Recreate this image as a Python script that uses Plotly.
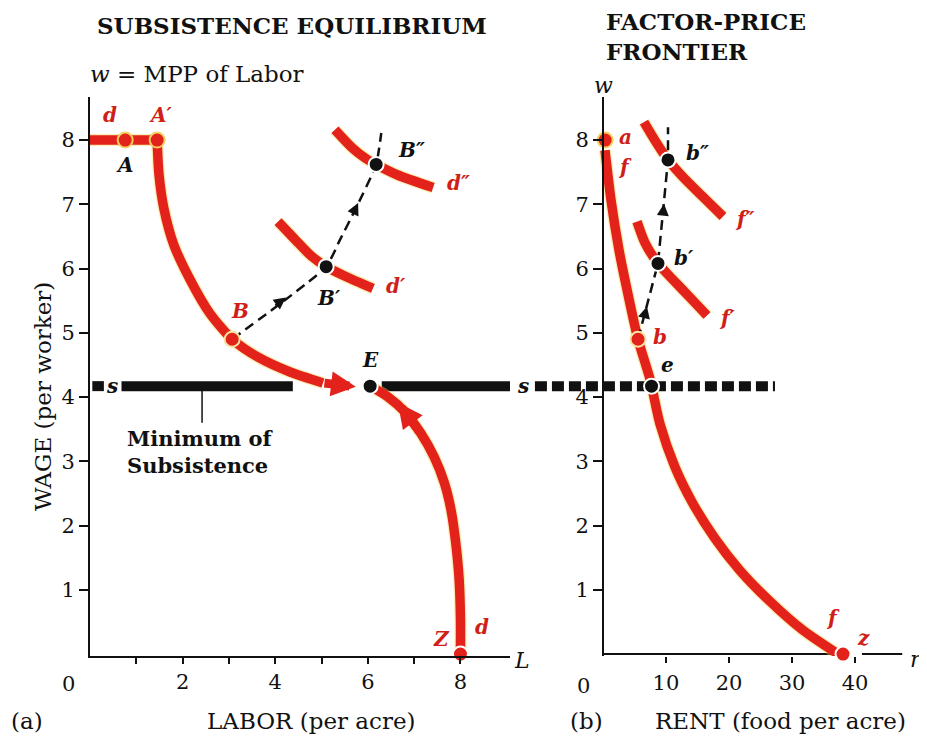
import plotly.graph_objects as go

# page has an 8px body margin: the figure is sized/positioned so that
# pixel coordinates below refer to the 927x745 window
OFF = 8
W, H = 927 - OFF, 745 - OFF
SERIF = "DejaVu Serif"
RED = "#e3221b"
LRED = "#d01e18"
BLK = "#111111"
GLOW = "rgba(245,210,80,0.45)"

# ---------------- data ----------------
s_level = 4.17

# Panel (a): LABOR (per acre) vs WAGE
d_top_L = [0.0, 1.45]
d_top_w = [8.0, 8.0]
d_L = [1.45, 1.49, 1.60, 1.81, 2.16, 2.59, 3.07, 3.63, 4.32, 5.03]
d_w = [8.0, 7.46, 6.92, 6.37, 5.83, 5.30, 4.90, 4.62, 4.39, 4.22]
z_L = [8.0, 8.0, 7.97, 7.90, 7.80, 7.65, 7.43, 7.15, 6.80, 6.44, 6.05]
z_w = [0.0, 0.56, 1.18, 1.72, 2.23, 2.67, 3.07, 3.43, 3.77, 4.00, 4.17]
d1_L = [4.06, 4.43, 4.77, 5.10, 5.51, 6.11]
d1_w = [6.73, 6.45, 6.20, 6.03, 5.88, 5.69]
d2_L = [5.29, 5.66, 5.96, 6.18, 6.63, 7.41]
d2_w = [8.16, 7.88, 7.71, 7.62, 7.46, 7.26]
path_a_L = [3.07, 5.10, 5.40, 5.75, 6.18, 6.29]
path_a_w = [4.90, 6.03, 6.45, 6.95, 7.62, 8.11]
s_a_L = [[0.05, 0.30], [0.68, 4.38], [6.30, 9.07]]
pts_a = {"A": (0.76, 8.0), "A2": (1.45, 8.0), "B": (3.07, 4.90), "B1": (5.10, 6.03),
         "B2": (6.18, 7.62), "E": (6.05, s_level), "Z": (8.0, 0.0)}
x_ticks_a = [1, 2, 3, 4, 5, 6, 7, 8]
x_text_a = ["", "2", "", "4", "", "6", "", "8"]
y_ticks = [1, 2, 3, 4, 5, 6, 7, 8]

# Panel (b): RENT (food per acre) vs WAGE
f_r = [0.32, 1.27, 2.54, 3.97, 5.56, 7.46, 9.05, 11.43, 14.29, 17.78, 21.75, 26.51, 31.75, 37.3]
f_w = [7.84, 7.07, 6.29, 5.60, 4.90, 4.28, 3.58, 2.91, 2.34, 1.80, 1.30, 0.82, 0.37, 0.0]
f1_r = [5.40, 6.67, 8.73, 11.27, 13.81, 16.51]
f1_w = [6.73, 6.40, 6.08, 5.81, 5.55, 5.27]
f2_r = [6.51, 8.41, 10.32, 12.54, 15.71, 19.05]
f2_w = [8.28, 7.97, 7.69, 7.44, 7.13, 6.81]
path_b_r = [5.56, 8.73, 10.32, 10.32]
path_b_w = [4.90, 6.08, 7.69, 8.20]
s_b_r = [-10.8, 27.3]
axis_b_r = [[0.0, 38.1], [41.1, 47.5]]
pts_b = {"a": (0.35, 8.0), "b": (5.56, 4.90), "b1": (8.73, 6.08), "b2": (10.32, 7.69),
         "e": (7.71, s_level), "z": (38.1, 0.0)}
x_ticks_b = [10, 20, 30, 40]

# ---------------- layout geometry ----------------
def px(x):
    return (x - OFF) / W

def py(y):
    return 1 - (y - OFF) / H

ydom = [py(656), py(97)]
yrng = [-0.03, 8.67]
xa_dom = [px(90), px(510)]
xa_rng = [0, 9.07]
xb_dom = [px(520), px(910)]
xb_rng = [-13.17, 48.73]
yb_pos = xb_dom[0] + (0 - xb_rng[0]) / (xb_rng[1] - xb_rng[0]) * (xb_dom[1] - xb_dom[0])

fig = go.Figure()


def line(x, y, color, width, xa="x", ya="y", dash=None, spline=True, smooth=0.7):
    fig.add_trace(go.Scatter(
        x=x, y=y, mode="lines", xaxis=xa, yaxis=ya, hoverinfo="skip", showlegend=False,
        line=dict(color=color, width=width, dash=dash, shape="spline" if spline else "linear",
                  smoothing=smooth)))


def red_curve(x, y, xa="x", ya="y"):
    line(x, y, GLOW, 12, xa, ya)
    line(x, y, RED, 9.5, xa, ya)


def point(p, color, xa="x", ya="y", size=15, edge="white"):
    fig.add_trace(go.Scatter(
        x=[p[0]], y=[p[1]], mode="markers", xaxis=xa, yaxis=ya, hoverinfo="skip",
        showlegend=False, cliponaxis=False,
        marker=dict(color=color, size=size, line=dict(color=edge, width=2))))


# subsistence line (a)
for seg in s_a_L:
    line(seg, [s_level, s_level], BLK, 10, spline=False)
line([2.42, 2.42], [s_level, 3.6], BLK, 1.5, spline=False)
# subsistence line (b) dashed
line(s_b_r, [s_level, s_level], BLK, 10, "x2", "y2", dash="12px,5px", spline=False)
# right x axis line
for seg in axis_b_r:
    line(seg, [0, 0], BLK, 2, "x2", "y2", spline=False)

# panel (a) curves
red_curve(d_top_L, d_top_w)
red_curve(d_L, d_w)
red_curve(z_L, z_w)
red_curve(d1_L, d1_w)
red_curve(d2_L, d2_w)
line(path_a_L, path_a_w, BLK, 2.5, dash="10px,6px", smooth=0.5)

# panel (b) curves
red_curve(f_r, f_w, "x2", "y2")
red_curve(f1_r, f1_w, "x2", "y2")
red_curve(f2_r, f2_w, "x2", "y2")
line(path_b_r, path_b_w, BLK, 2.5, "x2", "y2", dash="10px,6px", spline=False)

# points
point(pts_a["A"], RED, edge="#f3d060")
point(pts_a["A2"], RED, edge="#f3d060")
point(pts_a["B"], RED, edge="#f7e3a0")
point(pts_a["Z"], RED)
point(pts_a["B1"], BLK)
point(pts_a["B2"], BLK)
point(pts_a["E"], BLK)
point(pts_b["a"], RED, "x2", "y2", edge="#f3d060")
point(pts_b["b"], RED, "x2", "y2", edge="#f7e3a0")
point(pts_b["z"], RED, "x2", "y2")
point(pts_b["b1"], BLK, "x2", "y2")
point(pts_b["b2"], BLK, "x2", "y2")
point(pts_b["e"], BLK, "x2", "y2")

ann = []


def arrow(tail, tip, color, width, size, xr="x", yr="y"):
    ann.append(dict(x=tip[0], y=tip[1], ax=tail[0], ay=tail[1], xref=xr, yref=yr,
                    axref=xr, ayref=yr, showarrow=True, arrowhead=2, arrowsize=size,
                    arrowwidth=width, arrowcolor=color, text=""))


arrow((5.03, 4.22), (5.74, 4.16), RED, 9, 0.55)
arrow((7.15, 3.43), (6.65, 3.91), RED, 9, 0.55)
arrow((3.97, 5.41), (4.23, 5.55), BLK, 2, 1.2)
arrow((5.68, 6.85), (5.79, 7.02), BLK, 2, 1.2)
arrow((6.67, 5.29), (6.98, 5.41), BLK, 2, 1.2, "x2", "y2")
arrow((9.52, 6.84), (9.68, 7.01), BLK, 2, 1.2, "x2", "y2")


def label(txt, p, dx, dy, color, xr="x", yr="y", size=20):
    ann.append(dict(x=p[0], y=p[1], xref=xr, yref=yr, xshift=dx, yshift=dy,
                    text="<b><i>%s</i></b>" % txt, showarrow=False,
                    font=dict(family=SERIF, size=size, color=color)))


label("d", (0.0, 8.0), 20, 25, LRED)
label("A", pts_a["A"], 0, -25, BLK)
label("A′", pts_a["A2"], 4, 25, LRED)
label("B", pts_a["B"], 8, 28, LRED)
label("B′", pts_a["B1"], 3, -31, BLK)
label("B″", pts_a["B2"], 35, 14, BLK)
label("d′", (d1_L[-1], d1_w[-1]), 23, 2, LRED)
label("d″", (d2_L[-1], d2_w[-1]), 25, 5, LRED)
label("E", pts_a["E"], 0, 26, BLK)
label("Z", pts_a["Z"], -19, 15, LRED)
label("d", pts_a["Z"], 22, 27, LRED)
label("s", (0.48, s_level), 0, 0, BLK)
label("s", (-12.7, s_level), 0, 0, BLK, "x2", "y2")
label("a", pts_b["a"], 20, 3, LRED, "x2", "y2")
label("f", pts_b["a"], 20, -27, LRED, "x2", "y2")
label("b", pts_b["b"], 22, 2, LRED, "x2", "y2")
label("e", pts_b["e"], 16, 21, BLK, "x2", "y2")
label("b′", pts_b["b1"], 26, 5, BLK, "x2", "y2")
label("b″", pts_b["b2"], 29, 7, BLK, "x2", "y2")
label("f′", (f1_r[-1], f1_w[-1]), 20, -3, LRED, "x2", "y2")
label("f″", (f2_r[-1], f2_w[-1]), 22, -2, LRED, "x2", "y2")
label("f", pts_b["z"], -10, 36, LRED, "x2", "y2")
label("z", pts_b["z"], 20, 16, LRED, "x2", "y2")

ann.append(dict(x=0.76, y=3.15, xref="x", yref="y", xanchor="left", showarrow=False,
                align="left", text="<b>Minimum of<br>Subsistence</b>",
                font=dict(family=SERIF, size=21, color=BLK)))


def ptext(txt, x, y, size, xanchor="center", color=BLK, align="center"):
    ann.append(dict(x=px(x), y=py(y), xref="paper", yref="paper", xanchor=xanchor,
                    yanchor="middle", showarrow=False, text=txt, align=align,
                    font=dict(family=SERIF, size=size, color=color)))


ptext("<b>SUBSISTENCE EQUILIBRIUM</b>", 292, 25, 23)
ptext("<b>FACTOR-PRICE<br>FRONTIER</b>", 604, 36, 23, xanchor="left", align="left")
ptext("<i>w</i> = MPP of Labor", 88, 74, 23, xanchor="left")
ptext("<i>w</i>", 603, 86, 22)
ptext("<i>L</i>", 522, 660, 22)
ptext("<i>r</i>", 916, 659, 22)
ptext("0", 68, 684, 21)
ptext("0", 583, 686, 21)
ptext("(a)", 27, 721, 23)
ptext("LABOR (per acre)", 311, 721, 23)
ptext("(b)", 586, 721, 23)
ptext("RENT (food per acre)", 780, 721, 23)
ann.append(dict(x=px(28), y=py(397), xref="paper", yref="paper", showarrow=False,
                text="WAGE (per worker)", textangle=-90,
                font=dict(family=SERIF, size=23, color=BLK)))

tickfont = dict(family=SERIF, size=21, color=BLK)
axis_common = dict(showgrid=False, zeroline=False, ticks="outside", tickcolor=BLK,
                   tickwidth=1.5, tickfont=tickfont, fixedrange=True)

fig.update_layout(
    width=W, height=H, margin=dict(l=0, r=0, t=0, b=0),
    paper_bgcolor="white", plot_bgcolor="rgba(0,0,0,0)", showlegend=False,
    xaxis=dict(domain=xa_dom, range=xa_rng, anchor="y", showline=True, linecolor=BLK,
               linewidth=2, tickvals=x_ticks_a, ticktext=x_text_a, ticklen=6,
               ticklabelstandoff=0, **axis_common),
    yaxis=dict(domain=ydom, range=yrng, anchor="x", showline=True, linecolor=BLK,
               linewidth=2, tickvals=y_ticks, ticklen=9, **axis_common),
    xaxis2=dict(domain=xb_dom, range=xb_rng, anchor="y2", showline=False,
                tickvals=x_ticks_b, ticklen=6, ticklabelstandoff=2, **axis_common),
    yaxis2=dict(domain=ydom, range=yrng, anchor="free", position=yb_pos, showline=True,
                linecolor=BLK, linewidth=2, tickvals=y_ticks, ticklen=9, **axis_common),
    annotations=ann,
)

fig.write_html("out.html")
